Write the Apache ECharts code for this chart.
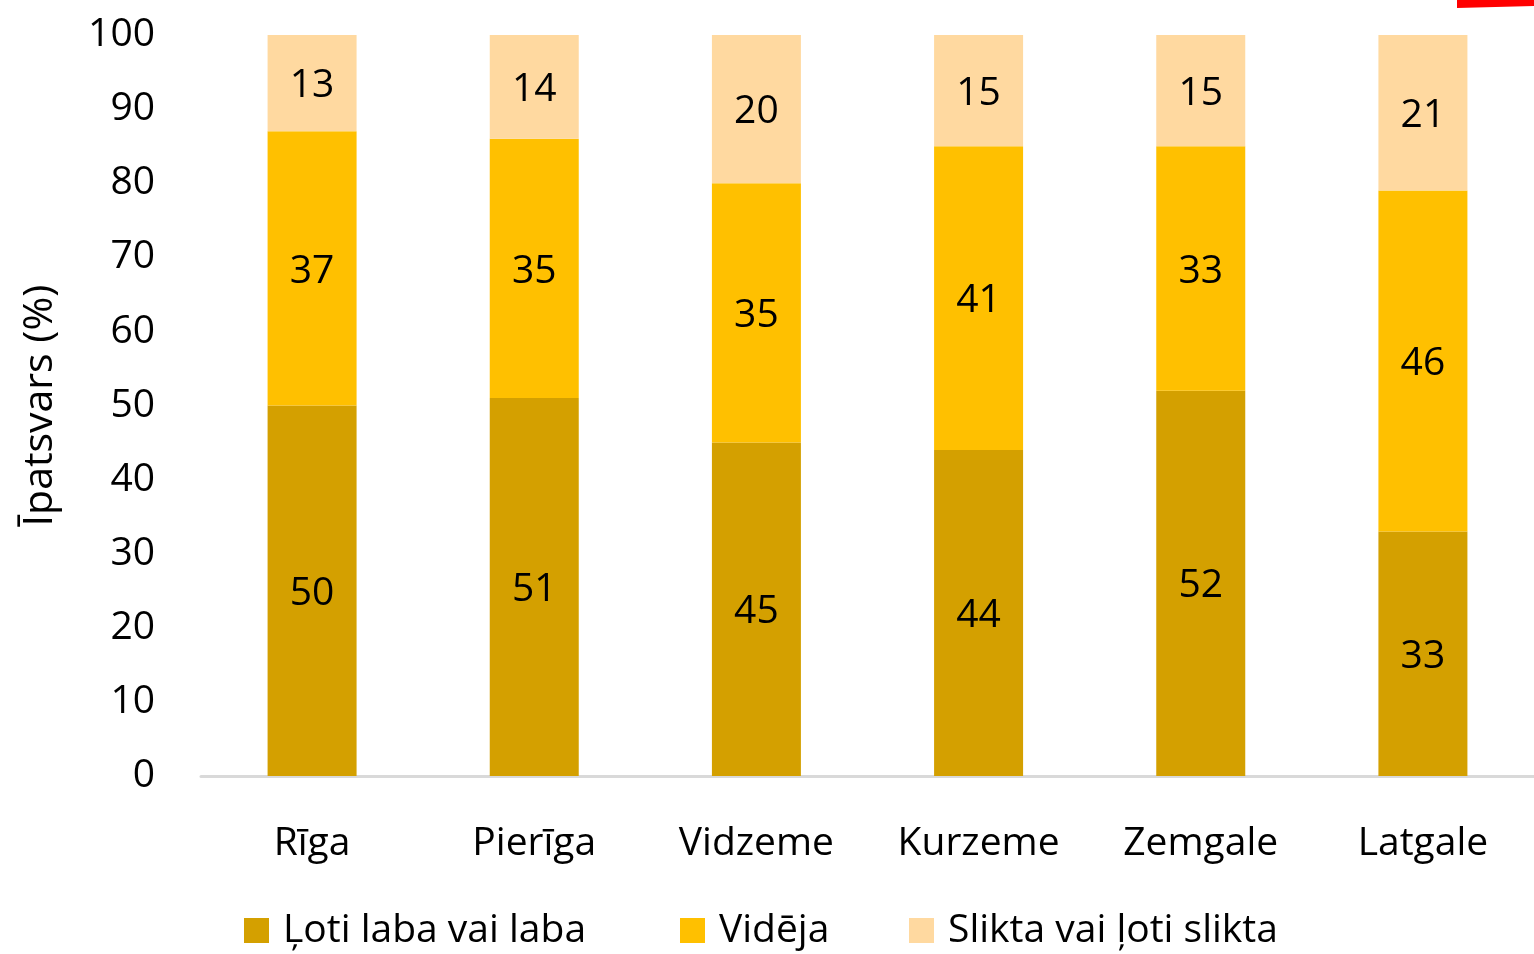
<!DOCTYPE html>
<html>
<head>
<meta charset="utf-8">
<script src="https://cdn.jsdelivr.net/npm/echarts@6/dist/echarts.min.js"></script>
<style>
  html, body { margin: 0; padding: 0; background: #fff; }
  #chart { width: 1534px; height: 954px; }
</style>
</head>
<body>
<div id="chart"></div>
<script>
var regions = ['Rīga', 'Pierīga', 'Vidzeme', 'Kurzeme', 'Zemgale', 'Latgale'];
var labaVals = [50, 51, 45, 44, 52, 33];
var videjaVals = [37, 35, 35, 41, 33, 46];
var sliktaVals = [13, 14, 20, 15, 15, 21];
var seriesNames = ['Ļoti laba vai laba', 'Vidēja', 'Slikta vai ļoti slikta'];

var fontFam = '"Open Sans", sans-serif';

function makeSeries(name, vals, color) {
	return {
		name: name,
		type: 'bar',
		stack: 'total',
		barWidth: 89,
		itemStyle: { color: color },
		label: {
			show: true,
			position: 'inside',
			offset: [0, 3],
			color: '#000',
			fontSize: 39,
			fontFamily: fontFam
		},
		data: vals
	};
}

// one legend per item so each sits where the original has it
function makeLegend(name, left) {
	return {
		data: [name],
		left: left,
		top: 911,
		padding: 0,
		icon: 'rect',
		itemWidth: 25,
		itemHeight: 25,
		itemGap: 0,
		textStyle: { fontSize: 39, color: '#000', fontFamily: fontFam, padding: [0, 0, 0, 9] }
	};
}

var chart = echarts.init(document.getElementById('chart'));
var option = {
	backgroundColor: '#fff',
	animation: false,
	grid: { left: 201, right: -2, top: 35, bottom: 178 },
	legend: [
		makeLegend(seriesNames[0], 244),
		makeLegend(seriesNames[1], 680),
		makeLegend(seriesNames[2], 909)
	],
	xAxis: {
		type: 'category',
		data: regions,
		axisLine: { lineStyle: { color: '#d9d9d9', width: 3 } },
		axisTick: { show: false },
		axisLabel: { fontSize: 39, color: '#000', margin: 48, fontFamily: fontFam }
	},
	yAxis: {
		type: 'value',
		min: 0,
		max: 100,
		interval: 10,
		name: 'Īpatsvars (%)',
		nameLocation: 'middle',
		nameGap: 140,
		nameTextStyle: { fontSize: 41, color: '#000', fontFamily: fontFam },
		axisLine: { show: false },
		axisTick: { show: false },
		splitLine: { show: false },
		axisLabel: { fontSize: 39, color: '#000', margin: 46, fontFamily: fontFam }
	},
	graphic: [{
		type: 'polygon',
		shape: { points: [[1457, 0], [1534, 0], [1534, 6], [1457, 8]] },
		style: { fill: '#ff0000' }
	}],
	series: [
		makeSeries(seriesNames[0], labaVals, '#D4A000'),
		makeSeries(seriesNames[1], videjaVals, '#FFC000'),
		makeSeries(seriesNames[2], sliktaVals, '#FFD9A0')
	]
};
chart.setOption(option);
</script>
</body>
</html>
